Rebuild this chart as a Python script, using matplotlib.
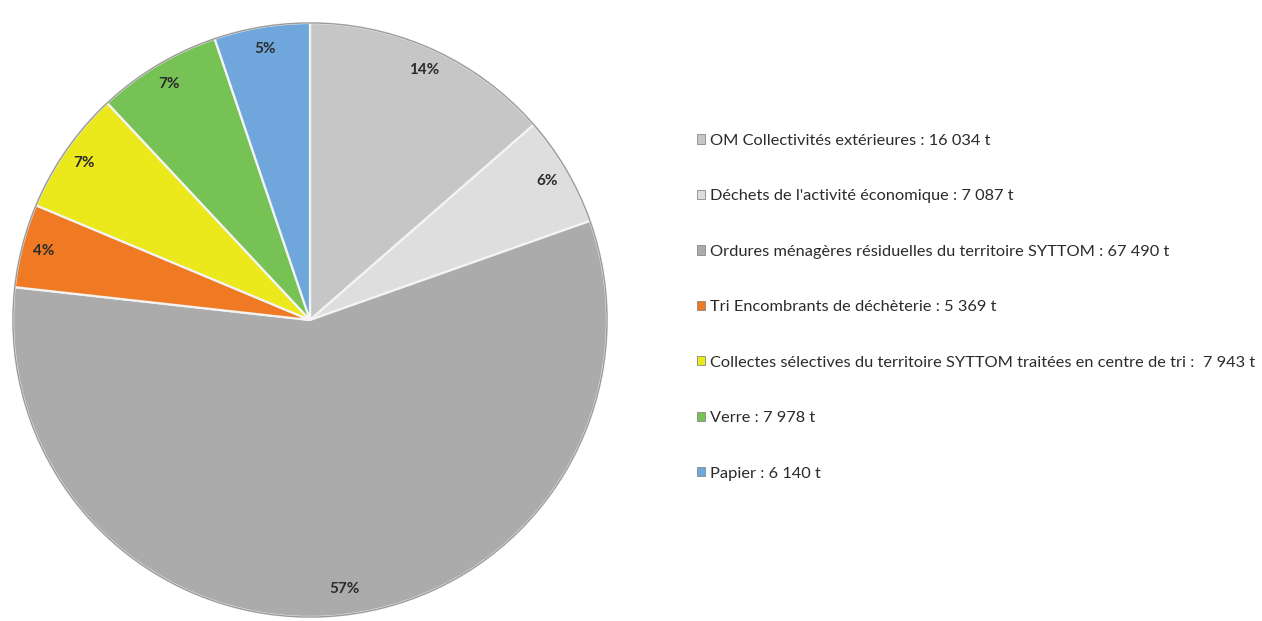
import matplotlib
matplotlib.use("Agg")
import matplotlib.pyplot as plt

categories = [
    "OM Collectivités extérieures : 16 034 t",
    "Déchets de l'activité économique : 7 087 t",
    "Ordures ménagères résiduelles du territoire SYTTOM : 67 490 t",
    "Tri Encombrants de déchèterie : 5 369 t",
    "Collectes sélectives du territoire SYTTOM traitées en centre de tri :  7 943 t",
    "Verre : 7 978 t",
    "Papier : 6 140 t",
]
values = [16034, 7087, 67490, 5369, 7943, 7978, 6140]
pct_labels = ["14%", "6%", "57%", "4%", "7%", "7%", "5%"]
colors = ["#c6c6c6", "#dedede", "#ababab", "#f07a24", "#ebe81c", "#77c255", "#6fa7dc"]

W, H = 1262, 621
fig = plt.figure(figsize=(W / 100, H / 100), dpi=100)
fig.patch.set_facecolor("white")

cx, cy, r = 310, 320, 300
ax = fig.add_axes([(cx - r) / W, (H - cy - r) / H, 2 * r / W, 2 * r / H])
wedges, texts, autotexts = ax.pie(
    values, colors=colors, startangle=90, counterclock=False,
    autopct=lambda p: "", pctdistance=0.925, radius=1.0,
    wedgeprops=dict(edgecolor="#f4f4f4", linewidth=1.6),
)
for w in wedges:
    w.set_zorder(2)
outline = plt.Circle((0, 0), 1.0, fill=False, edgecolor="#9a9a9a", linewidth=1.0, zorder=3)
ax.add_patch(outline)
imax = values.index(max(values))
for i, (t, lab) in enumerate(zip(autotexts, pct_labels)):
    t.set_text(lab)
    t.set_fontsize(11)
    t.set_color("#2b2b2b")
    t.set_family("Lato")
    t.set_fontweight("bold")
    if i == imax:
        x, y = t.get_position()
        t.set_position((x * 1.1, y * 0.985))
ax.set_xlim(-1.01, 1.01)
ax.set_ylim(-1.01, 1.01)
ax.set_aspect("equal")
ax.axis("off")

handles = [plt.Rectangle((0, 0), 1, 1, facecolor=c, edgecolor="#888888", linewidth=0.6) for c in colors]
leg = fig.legend(
    handles, categories, loc="upper left", bbox_to_anchor=(682 / W, 1 - 119 / H),
    frameon=False, handlelength=0.5, handleheight=0.5, handletextpad=0.3,
    labelspacing=2.53, prop={"family": "Lato", "size": 11.8},
)
for t in leg.get_texts():
    t.set_color("#2b2b2b")

fig.savefig("out.png", dpi=100, facecolor="white")
